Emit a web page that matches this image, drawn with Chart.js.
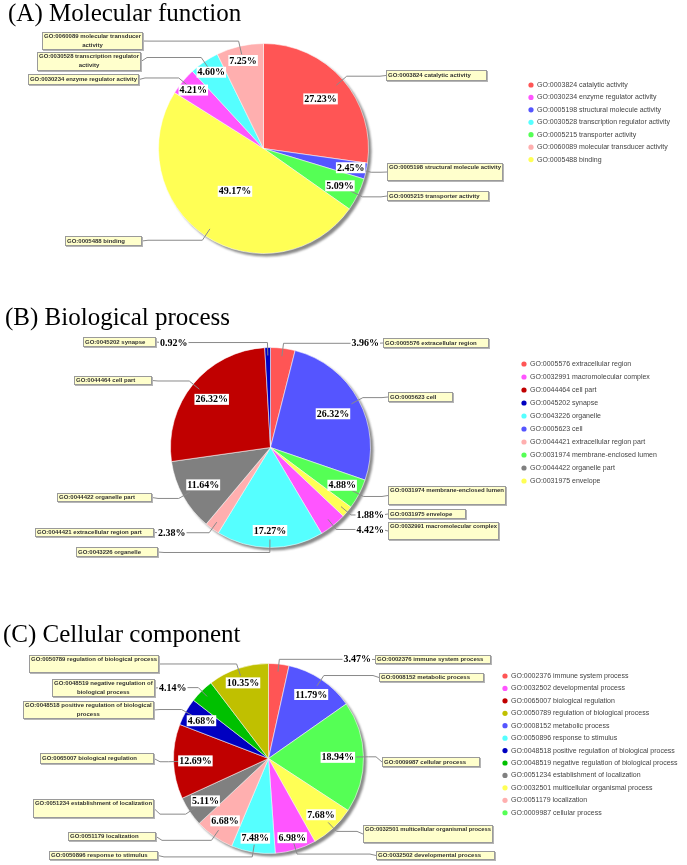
<!DOCTYPE html>
<html><head><meta charset="utf-8">
<script src="https://cdn.jsdelivr.net/npm/chart.js@4.4.1/dist/chart.umd.min.js"></script>
<style>
html,body{margin:0;padding:0;background:#fff;}
body{position:relative;width:687px;height:865px;overflow:hidden;}
.t{position:absolute;font-family:"Liberation Serif","Times New Roman",serif;font-size:25px;line-height:25px;color:#000;white-space:nowrap;z-index:2;}
canvas{position:absolute;left:0;}
</style></head><body>
<div class="t" style="left:8px;top:0px">(A) Molecular function</div>
<div class="t" style="left:5px;top:304px">(B) Biological process</div>
<div class="t" style="left:3px;top:621px">(C) Cellular component</div>
<canvas id="cA" width="687" height="290" style="top:0px"></canvas>
<canvas id="cB" width="687" height="290" style="top:290px"></canvas>
<canvas id="cC" width="687" height="285" style="top:580px"></canvas>
<script>
// ---------- DATA ----------
const categoriesA = ["GO:0003824 catalytic activity","GO:0005198 structural molecule activity","GO:0005215 transporter activity","GO:0005488 binding","GO:0030234 enzyme regulator activity","GO:0030528 transcription regulator activity","GO:0060089 molecular transducer activity"];
const valuesA = [27.23, 2.45, 5.09, 49.17, 4.21, 4.60, 7.25];
const legendOrderA = [0,4,1,5,2,6,3];

const categoriesB = ["GO:0005576 extracellular region","GO:0005623 cell","GO:0031974 membrane-enclosed lumen","GO:0031975 envelope","GO:0032991 macromolecular complex","GO:0043226 organelle","GO:0044421 extracellular region part","GO:0044422 organelle part","GO:0044464 cell part","GO:0045202 synapse"];
const valuesB = [3.96, 26.32, 4.88, 1.88, 4.42, 17.27, 2.38, 11.64, 26.32, 0.92];
const legendOrderB = [0,4,8,9,5,1,6,2,7,3];

const categoriesC = ["GO:0002376 immune system process","GO:0008152 metabolic process","GO:0009987 cellular process","GO:0032501 multicellular organismal process","GO:0032502 developmental process","GO:0050896 response to stimulus","GO:0051179 localization","GO:0051234 establishment of localization","GO:0065007 biological regulation","GO:0048518 positive regulation of biological process","GO:0048519 negative regulation of biological process","GO:0050789 regulation of biological process"];
const valuesC = [3.47, 11.79, 18.94, 7.68, 6.98, 7.48, 6.68, 5.11, 12.69, 4.68, 4.14, 10.35];
const legendOrderC = [0,4,8,11,1,5,9,10,7,3,6,2];

// ---------- STYLE / LAYOUT ----------
const palette = ['#FF5555','#5555FF','#55FF55','#FFFF55','#FF55FF','#55FFFF','#FFAFAF','#808080','#C00000','#0000C0','#00C000','#C0C000'];

// callout boxes: x, y, w, h, words on second line
const layoutA = {
  pad:{left:158,right:318,top:43,bottom:36},
  boxes:[[386,70,101,11,0],[387,163,116,18,0],[387,191,102,10,0],[65,236,77,10,0],[28,74,111,11,0],[37,52,104,19,1],[42,32,101,18,1]],
  labelR:[0.72,0.85,0.81,0.49,0.87,0.88,0.86],
  legend:{x:531,y:85,step:12.43}
};
const layoutB = {
  pad:{left:170,right:316,top:57,bottom:32},
  boxes:[[383,48,106,10,0],[388,102,65,10,0],[388,196,118,19,0],[388,219,78,10,0],[388,232,111,18,0],[76,257,82,10,0],[35,238,119,9,0],[57,203,95,9,0],[74,86,78,9,0],[83,47,73,10,0]],
  labelR:[null,0.71,0.81,null,null,0.83,null,0.77,0.76,null],
  legend:{x:524,y:74,step:13}
};
const layoutC = {
  pad:{left:173,right:323,top:83,bottom:11},
  boxes:[[375,75,116,9,0],[379,93,105,9,0],[382,177,98,10,0],[363,245,130,18,0],[376,271,119,9,0],[49,271,109,9,0],[68,252,88,9,0],[33,219,121,19,0],[40,173,114,11,0],[23,121,131,18,1],[52,99,103,18,2],[29,75,130,18,0]],
  labelR:[null,0.81,0.73,0.81,0.87,0.85,0.80,0.80,0.77,0.81,null,0.84],
  legend:{x:505,y:96,step:12.43}
};

function makeCallouts(values, cats, order, colors, L){
  return {
    id:'callouts',
    beforeDatasetsDraw(chart){
      const a = chart.getDatasetMeta(0).data[0];
      const c = chart.ctx; c.save();
      c.fillStyle='rgba(125,125,125,0.9)';
      c.filter='blur(0.8px)';
      c.beginPath(); c.arc(a.x+3,a.y+3,a.outerRadius,0,Math.PI*2); c.fill();
      c.restore();
    },
    afterDatasetsDraw(chart){
      const c = chart.ctx; const arcs = chart.getDatasetMeta(0).data;
      c.save();
      const geo = arcs.map((a,i)=>{
        const b = L.boxes[i];
        const mid=(a.startAngle+a.endAngle)/2;
        const cx=a.x, cy=a.y, r=a.outerRadius;
        const ax=cx+Math.cos(mid)*r*0.92, ay=cy+Math.sin(mid)*r*0.92;
        const ex=cx+Math.cos(mid)*r*1.05, ey=cy+Math.sin(mid)*r*1.05;
        const right = b[0] > cx;
        const edge = right ? b[0] : b[0]+b[2];
        const bcy = b[1]+b[3]/2;
        return {b,mid,cx,cy,r,ax,ay,ex,ey,right,edge,bcy};
      });
      // leader lines
      c.strokeStyle='#8a8a8a'; c.lineWidth=1;
      geo.forEach(g=>{
        const kx = g.edge + (g.right?-6:6);
        c.beginPath(); c.moveTo(g.ax,g.ay); c.lineTo(g.ex,g.ey);
        c.lineTo(kx,g.ey); c.lineTo(g.edge,g.bcy); c.stroke();
      });
      // boxes
      geo.forEach((g,i)=>{
        const [x,y,w,h,tail]=g.b;
        c.fillStyle='#b5b5b5'; c.fillRect(x+1,y+1,w,h);
        c.fillStyle='#FFFFCC'; c.fillRect(x,y,w,h);
        c.strokeStyle='#9a9a9a'; c.lineWidth=1; c.strokeRect(x+0.5,y+0.5,w-1,h-1);
        c.fillStyle='#333'; c.font='bold 6px "Liberation Sans", Arial, sans-serif';
        c.textBaseline='middle'; c.textAlign='left';
        const words=cats[i].split(' ');
        const l1 = tail? words.slice(0,words.length-tail).join(' ') : cats[i];
        const y1 = y + (h<14 ? h/2 : 4.7);
        c.fillText(l1, x+2, y1, w-4);
        if(tail){
          const l2 = words.slice(words.length-tail).join(' ');
          const w1 = Math.min(c.measureText(l1).width, w-4);
          c.textAlign='center';
          c.fillText(l2, x+2+w1/2, y1+8.3);
        }
      });
      // percentage labels
      c.font='bold 10px "Liberation Serif", "Times New Roman", serif';
      c.textBaseline='middle'; c.textAlign='center';
      geo.forEach((g,i)=>{
        const txt = values[i].toFixed(2)+'%';
        const tw = c.measureText(txt).width;
        let px, py;
        const f = L.labelR[i];
        if(f!=null){
          px = g.cx + Math.cos(g.mid)*g.r*f; py = g.cy + Math.sin(g.mid)*g.r*f;
        } else {
          px = g.right ? g.edge-4-tw/2 : g.edge+4+tw/2; py = g.ey;
        }
        c.fillStyle='#fff'; c.fillRect(px-tw/2-1, py-5.5, tw+2, 11);
        c.fillStyle='#000'; c.fillText(txt, px, py+0.5);
      });
      c.restore();
    },
    afterDraw(chart){
      const c = chart.ctx; c.save();
      c.font='7px "Liberation Sans", Arial, sans-serif';
      c.textBaseline='middle'; c.textAlign='left';
      order.forEach((idx,k)=>{
        const y = L.legend.y + k*L.legend.step;
        c.fillStyle=colors[idx];
        c.beginPath(); c.arc(L.legend.x, y, 2.6, 0, Math.PI*2); c.fill();
        c.fillStyle='#444';
        c.fillText(cats[idx], L.legend.x+6, y);
      });
      c.restore();
    }
  };
}

function build(id, cats, values, order, L){
  const colors = palette.slice(0, values.length);
  return new Chart(document.getElementById(id), {
    type:'pie',
    data:{labels:cats, datasets:[{data:values, backgroundColor:colors, borderColor:'rgba(255,255,255,0.55)', borderWidth:1, hoverOffset:0, hoverBorderWidth:1}]},
    options:{
      responsive:false, animation:false, events:[],
      layout:{padding:L.pad},
      plugins:{legend:{display:false}, tooltip:{enabled:false}}
    },
    plugins:[makeCallouts(values, cats, order, colors, L)]
  });
}
build('cA', categoriesA, valuesA, legendOrderA, layoutA);
build('cB', categoriesB, valuesB, legendOrderB, layoutB);
build('cC', categoriesC, valuesC, legendOrderC, layoutC);
</script>
</body></html>
